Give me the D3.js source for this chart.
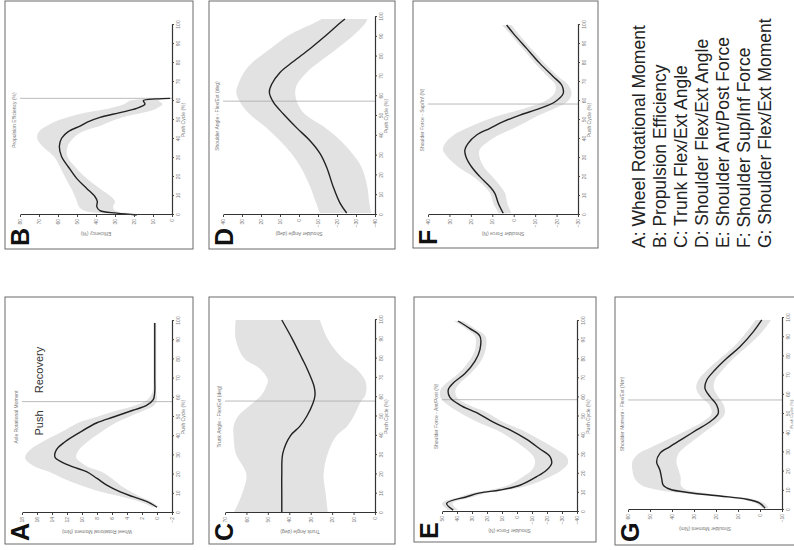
<!DOCTYPE html>
<html>
<head>
<meta charset="utf-8">
<script src="https://cdn.jsdelivr.net/npm/d3@7"></script>
<style>
body{margin:0;background:#fff;}
svg{display:block;font-family:"Liberation Sans",Arial,sans-serif;}
</style>
</head>
<body>
<svg id="chart" width="794" height="550"></svg>
<script>
// ---- data (push cycle in %) ----
const cycleTicks = [0,10,20,30,40,50,60,70,80,90,100];

const A_cycle = [3,6,8.5,11,14.5,18,21.5,24,26.5,29,33,37,42,47,50,53.5,56,59,63,70,80,90,99];
const A_mean  = [0,1.4,3.2,4.9,6.7,8.0,9.4,11.2,12.7,13.6,13.4,12.3,10.3,8.0,5.8,3.2,1.4,0.5,0.3,0.3,0.3,0.3,0.3];
const A_upper = [0.5,2.4,4.7,7.4,10.2,12.5,14.4,16.2,17.2,17.6,16.9,15.3,12.8,10.5,8.1,5.2,2.9,1.3,0.6,0.5,0.5,0.5,0.5];
const A_lower = [-0.3,0.8,2.2,3.4,4.9,6.0,7.4,9.2,10.2,10.8,10.4,9.3,7.5,5.5,3.8,1.7,0.4,0,0.1,0.1,0.1,0.1,0.1];
const A_ticks = [-2,0,2,4,6,8,10,12,14,16,18];

const B_cycle = [0,1,2.3,4.4,7,9.6,14,19.3,25.4,30.7,36,40.4,43.9,46.8,48.9,51.4,53.9,56.1,58.4,60.2,61.1,61.4];
const B_mean  = [18.6,29,37.9,39.6,39.3,40.5,44.9,50.2,54.6,58.1,59.3,58.1,54.6,48.4,44.6,37.9,27.4,18.6,14.2,15.1,8.1,1];
const B_upper = [25,38,46,49,50,51,53,56,59,62,68,71,70,66,62,55,45,33,25,22,14,4];
const B_lower = [12,22,30,31,30,32,38,45,51,55,55,52,47,38,33,26,15,8,5,7,3,0];
const B_ticks = [0,10,20,30,40,50,60,70,80];

const C_cycle = [0,10,20,31,40,45,50,57,61,65,69,75,80,90,100];
const C_mean  = [43.5,43.5,43.5,43,39.5,35,31.9,28.9,28,28.3,29.5,31.8,34,38.5,43.5];
const C_upper = [66,62,60,65,66,66,64,57,53,51,50,54,61,65,65];
const C_lower = [22,23,24,22,18,13,10,7,4.5,4,4.7,9,15,22,25.7];
const C_ticks = [0,10,20,30,40,50,60,70];

const D_cycle = [1,6,14,24,31,37.5,44,51,57,62,66,72,77.5,84,91,97,99];
const D_mean  = [-25.1,-21.6,-18.1,-14.6,-11.1,-5.8,1.2,8.2,13.5,15.6,14.4,10,3,-5.8,-14.6,-21.6,-24.2];
const D_upper = [-11,-9,-6,-1,4,10,17,26,31,33,32,29,24,15,5,-8,-12];
const D_lower = [-38,-37,-36,-33,-28,-22,-14,-3,1,2,1,-4,-11,-20,-29,-35,-36];
const D_ticks = [-40,-30,-20,-10,0,10,20,30,40];

const E_cycle = [1,4.5,8,10,11.5,14,18.5,22,25.5,29,33,38,43,47,52,56,60,64,67.5,72.5,79,85,92,96,100];
const E_mean  = [42.5,46.9,33.5,24.7,11.3,-2,-13.1,-19.8,-23.1,-22,-15.3,-6.5,4.7,15.8,26.9,38,44.7,45.8,42.5,34.7,28,24.7,24.7,31.3,39.3];
const E_upper = [46,50,38,30,18,6,-4,-10,-12,-11,-6,3,14,26,38,46,51,51,47,39,32,28,28,34,42];
const E_lower = [39,43,29,20,6,-8,-22,-30,-34,-33,-26,-15,-3,9,20,32,40,41,38,31,24,21,21,28,36];
const E_ticks = [-40,-30,-20,-10,0,10,20,30,40,50];

const F_cycle = [0.9,6.2,11.4,14.9,20.2,25.4,30.7,34.2,37.7,42.1,45.6,49.1,52.6,56.1,59.6,64,68.4,72.8,79.8,87.7,95.6,100];
const F_mean  = [4.9,7.2,8.8,11.1,15.8,19.7,22.3,22.8,21.3,17.3,11.1,4.9,-2.9,-12.2,-19.3,-23.1,-22.4,-18.5,-12.2,-6,0.2,3.3];
const F_upper = [7,9.5,11,13.5,19,26,31,33,32,28,22,15,6,-5,-14,-19,-19.5,-16,-10,-4,2,5.5];
const F_lower = [1,3,4,6,10,14,16,16,13,7,0,-6,-12,-19,-25,-27,-25.5,-21,-14.5,-8,-2,1];
const F_ticks = [-30,-20,-10,0,10,20,30,40];

const G_cycle = [0.9,3.5,5.6,7.3,9,10.8,13,16.5,20.8,25.2,29.5,33,37.3,41.7,46,50.3,54.7,59,63.4,67.7,72.9,79,85,92.9,99];
const G_mean  = [-2.3,0,6,18.2,31.8,40.9,44,44.7,45.5,47,45.5,40.9,34.9,28.8,22.7,19,19.7,22.7,25,24.2,20.5,15.1,9.1,3,-0.8];
const G_upper = [-1,2,9,22,37,48,54,57,58,58,55,49,41,33,26,22,23,27,29,28,24,18,12,6,2];
const G_lower = [-4,-2,3,14,26,34,36,36,37,38,37,34,29,24,19,16,16.5,19,21,20.5,17,12,6,-1,-5];
const G_ticks = [-10,0,10,20,30,40,50,60];

// end of push phase (% cycle) per panel
const pushEnd = {A:58, B:61.4, C:58, D:57.5, E:58.8, F:58.4, G:57.3};

const legendItems = [
  "A: Wheel Rotational Moment",
  "B: Propulsion Efficiency",
  "C: Trunk Flex/Ext Angle",
  "D: Shoulder Flex/Ext Angle",
  "E: Shoulder Ant/Post Force",
  "F: Shoulder Sup/Inf Force",
  "G: Shoulder Flex/Ext Moment"
];

// ---- layout: the page was scanned sideways, so draw it portrait and turn it ----
const svg = d3.select('#chart');
svg.append('rect').attr('width',794).attr('height',550).attr('fill','#fff');
const page = svg.append('g').attr('transform','translate(0,550) rotate(-90)');

const panels = [
  {id:'A', title:'Axle Rotational Moment', ylab:'Wheel Rotational Moment (Nm)', cycle:A_cycle, mean:A_mean, upper:A_upper, lower:A_lower, ticks:A_ticks,
   frame:[6,253,5,193], xr:[37,229], yr:[172,22], xlabOff:13, xlabSize:5},
  {id:'B', title:'Propulsion Efficiency (%)', ylab:'Efficiency (%)', cycle:B_cycle, mean:B_mean, upper:B_upper, lower:B_lower, ticks:B_ticks,
   frame:[301,549,5,193], xr:[335,525], yr:[172,20], xlabOff:13, xlabSize:5},
  {id:'C', title:'Trunk Angle - Flex/Ext (deg)', ylab:'Trunk Angle (deg)', cycle:C_cycle, mean:C_mean, upper:C_upper, lower:C_lower, ticks:C_ticks,
   frame:[6,253,209,395], xr:[37,230], yr:[375,225], xlabOff:13, xlabSize:5},
  {id:'D', title:'Shoulder Angle - Flex/Ext (deg)', ylab:'Shoulder Angle (deg)', cycle:D_cycle, mean:D_mean, upper:D_upper, lower:D_lower, ticks:D_ticks,
   frame:[301,549,209,395], xr:[335,533], yr:[375,223], xlabOff:13, xlabSize:5},
  {id:'E', title:'Shoulder Force - Ant/Post (N)', ylab:'Shoulder Force (N)', cycle:E_cycle, mean:E_mean, upper:E_upper, lower:E_lower, ticks:E_ticks,
   frame:[8,253,414,596], xr:[38,229], yr:[577,442], xlabOff:13, xlabSize:5},
  {id:'F', title:'Shoulder Force - Sup/Inf (N)', ylab:'Shoulder Force (N)', cycle:F_cycle, mean:F_mean, upper:F_upper, lower:F_lower, ticks:F_ticks,
   frame:[302,549,413,598], xr:[335,525], yr:[578,428], xlabOff:13, xlabSize:5},
  {id:'G', title:'Shoulder Moment - Flex/Ext (Nm)', ylab:'Shoulder Moment (Nm)', cycle:G_cycle, mean:G_mean, upper:G_upper, lower:G_lower, ticks:G_ticks,
   frame:[5,253,615,800], xr:[40,232], yr:[782,628], xlabOff:11.3, xlabSize:4.2}
];

function drawPanel(p){
  const g = page.append('g');
  const [fx0,fx1,fy0,fy1] = p.frame;
  g.append('rect')
    .attr('x',fx0).attr('y',fy0)
    .attr('width',fx1-fx0).attr('height',fy1-fy0)
    .attr('fill','none').attr('stroke','#6a6a6a').attr('stroke-width',1);

  const dom = [p.ticks[0], p.ticks[p.ticks.length-1]];
  const x = d3.scaleLinear().domain([0,100]).range(p.xr);
  const y = d3.scaleLinear().domain(dom).range(p.yr);
  const pts = p.cycle.map((c,i)=>({c:c, m:p.mean[i], u:p.upper[i], l:p.lower[i]}));

  // SD band
  g.append('path').datum(pts)
    .attr('d', d3.area().x(d=>x(d.c)).y0(d=>y(d.l)).y1(d=>y(d.u)).curve(d3.curveCatmullRom))
    .attr('fill','#e2e2e2');

  // push / recovery divider
  g.append('line')
    .attr('x1',x(pushEnd[p.id])).attr('x2',x(pushEnd[p.id]))
    .attr('y1',y(dom[0])).attr('y2',y(dom[1]))
    .attr('stroke','#a8a8a8').attr('stroke-width',0.8);

  // mean curve
  g.append('path').datum(pts)
    .attr('d', d3.line().x(d=>x(d.c)).y(d=>y(d.m)).curve(d3.curveCatmullRom))
    .attr('fill','none').attr('stroke','#222').attr('stroke-width',1.4);

  const xa = g.append('g').attr('transform',`translate(0,${y(dom[0])})`)
    .call(d3.axisBottom(x).tickValues(cycleTicks).tickSize(2).tickSizeOuter(0).tickPadding(2));
  const ya = g.append('g').attr('transform',`translate(${x(0)},0)`)
    .call(d3.axisLeft(y).tickValues(p.ticks).tickSize(2).tickSizeOuter(0).tickPadding(2));
  [xa,ya].forEach(a=>{
    a.select('.domain').attr('stroke','#333').attr('stroke-width',1.2);
    a.selectAll('.tick line').attr('stroke','#444');
    a.selectAll('text').attr('font-size',5).attr('fill','#777').attr('font-family','Liberation Sans, Arial, sans-serif');
  });

  // tiny titles
  g.append('text')
    .attr('x',(p.xr[0]+p.xr[1])/2).attr('y',p.yr[1]-4)
    .attr('text-anchor','middle').attr('font-size',5).attr('fill','#777')
    .text(p.title);
  g.append('text')
    .attr('x',x(50)).attr('y',y(dom[0])+p.xlabOff)
    .attr('text-anchor','middle').attr('font-size',p.xlabSize).attr('fill','#777')
    .text('Push Cycle (%)');
  const ym = (p.yr[0]+p.yr[1])/2;
  g.append('text')
    .attr('transform',`translate(${x(0)-17},${ym}) rotate(-90)`)
    .attr('text-anchor','middle').attr('font-size',5).attr('fill','#777')
    .text(p.ylab);

  // panel letter
  g.append('text')
    .attr('x',fx0+3).attr('y',fy0+24)
    .attr('font-size',25).attr('font-weight','bold').attr('fill','#111')
    .text(p.id);
}

panels.forEach(drawPanel);

// phase names in panel A
page.append('text').attr('x',127).attr('y',43).attr('text-anchor','middle')
  .attr('font-size',11).attr('fill','#333').text('Push');
page.append('text').attr('x',180).attr('y',43).attr('text-anchor','middle')
  .attr('font-size',11).attr('fill','#333').text('Recovery');

// key in the empty slot
page.append('g').selectAll('text')
  .data(legendItems)
  .join('text')
  .attr('x',302)
  .attr('y',(d,i)=>645 + i*21)
  .attr('font-size',17.5).attr('fill','#222')
  .text(d=>d);
</script>
</body>
</html>
